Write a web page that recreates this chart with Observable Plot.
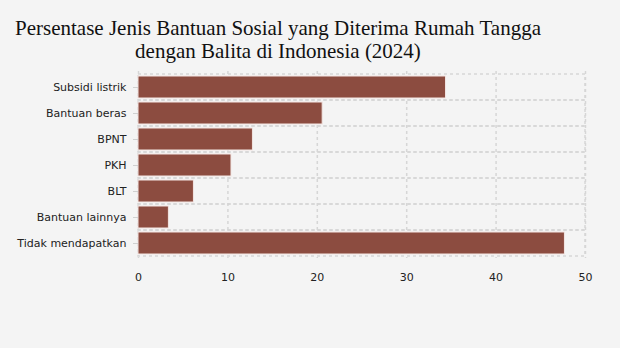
<!DOCTYPE html>
<html><head><meta charset="utf-8">
<script src="https://cdn.jsdelivr.net/npm/d3@7"></script>
<script src="https://cdn.jsdelivr.net/npm/@observablehq/plot@0.6"></script>
<style>
body{margin:0;background:#f4f4f4;width:620px;height:348px;overflow:hidden;}
#title{position:absolute;left:0;top:17px;width:556px;text-align:center;font-family:"Liberation Serif",serif;font-size:21px;line-height:23px;color:#111;}
#chart{position:absolute;left:0;top:66px;}
</style></head>
<body>
<div id="title">Persentase Jenis Bantuan Sosial yang Diterima Rumah Tangga<br>dengan Balita di Indonesia (2024)</div>
<div id="chart"></div>
<script>
const categories = ["Subsidi listrik","Bantuan beras","BPNT","PKH","BLT","Bantuan lainnya","Tidak mendapatkan"];
const values = [34.4, 20.6, 12.8, 10.4, 6.2, 3.4, 47.7];
const xTicks = [0,10,20,30,40,50];
const data = categories.map((c,i)=>({cat:c, val:values[i]}));

const chart = Plot.plot({
  width: 620, height: 230,
  marginLeft: 138, marginRight: 35, marginTop: 5, marginBottom: 38,
  style: {background:"transparent", fontFamily:"DejaVu Sans, Verdana, sans-serif", fontSize:"11px", color:"#222"},
  x: {domain:[0,50], ticks: xTicks, label:null},
  y: {domain: categories, padding: 0, label:null},
  marks: [
    Plot.barX(categories, {y: d=>d, x1: 0, x2: 50, fill: "none", stroke: "#d6d6d6", strokeWidth: 1.5, strokeDasharray: "3,3"}),
    Plot.ruleX(xTicks, {stroke: "#d6d6d6", strokeWidth: 1.5, strokeDasharray: "3,3"}),
    Plot.barX(data, {y: "cat", x: "val", fill: "#8c4c40", stroke: "#f3e6e3", strokeWidth: 1, insetTop: 2, insetBottom: 2}),
    Plot.axisY({tickSize: 5, tickPadding: 7, stroke: "#d0d0d0", fill: "#222"}),
    Plot.axisX({ticks: xTicks, tickSize: 0, tickPadding: 15, fill: "#222"})
  ]
});
document.getElementById("chart").append(chart);
</script>
</body></html>
